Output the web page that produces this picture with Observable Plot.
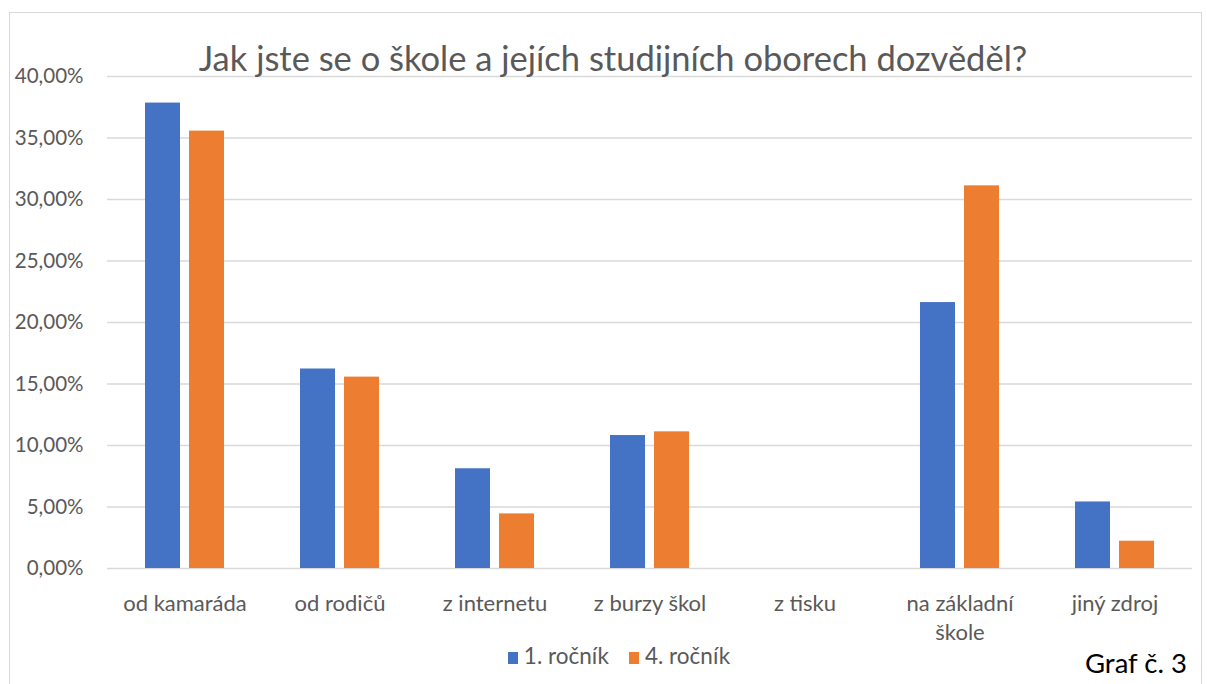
<!DOCTYPE html>
<html>
<head>
<meta charset="utf-8">
<script src="https://cdn.jsdelivr.net/npm/d3@7"></script>
<script src="https://cdn.jsdelivr.net/npm/@observablehq/plot@0.6"></script>
<style>
  html, body { margin: 0; padding: 0; background: #fff; }
  #wrap { position: relative; width: 1207px; height: 684px; overflow: hidden; font-family: Lato, "Open Sans", sans-serif; }
  #frame { position: absolute; left: 9px; top: 12px; width: 1193px; height: 700px; border: 1.5px solid #d9d9d9; box-sizing: border-box; }
  #title { position: absolute; left: 0; width: 1226px; top: 37px; text-align: center; font-size: 34.5px; color: #595959; white-space: nowrap; }
  #legend { position: absolute; left: 0; width: 1238px; top: 642px; text-align: center; font-size: 22.5px; color: #595959; white-space: nowrap; }
  #legend .item { display: inline-block; margin: 0 10px; }
  #legend .sw { display: inline-block; width: 10px; height: 12px; margin-right: 6px; vertical-align: 0px; }
  #graf { position: absolute; left: 1085px; top: 646px; font-size: 27.5px; color: #000; white-space: nowrap; }
  #chart { position: absolute; left: 0; top: 0; }
</style>
</head>
<body>
<div id="wrap">
  <div id="frame"></div>
  <div id="chart"></div>
  <div id="title"></div>
  <div id="legend"></div>
  <div id="graf"></div>
</div>
<script>
const titleText = "Jak jste se o škole a jejích studijních oborech dozvěděl?";
const captionText = "Graf č. 3";
const categories = ["od kamaráda", "od rodičů", "z internetu", "z burzy škol", "z tisku", "na základní škole", "jiný zdroj"];
const seriesNames = ["1. ročník", "4. ročník"];
const rocnik1 = [37.84, 16.22, 8.11, 10.81, 0, 21.62, 5.41];
const rocnik4 = [35.56, 15.56, 4.44, 11.11, 0, 31.11, 2.22];
const yTicks = [0, 5, 10, 15, 20, 25, 30, 35, 40];
const colors = ["#4472C4", "#ED7D31"];

const data1 = categories.map((c, i) => ({cat: c, value: rocnik1[i], series: seriesNames[0]}));
const data4 = categories.map((c, i) => ({cat: c, value: rocnik4[i], series: seriesNames[1]}));

const fmtY = d => d.toFixed(2).replace(".", ",") + "%";
const wrap = d => {
  if (d.length <= 12) return d;
  const k = d.lastIndexOf(" ");
  return d.slice(0, k) + "\n" + d.slice(k + 1);
};

const chart = Plot.plot({
  width: 1207,
  height: 684,
  marginTop: 76,
  marginBottom: 116,
  marginLeft: 107,
  marginRight: 15,
  style: {fontFamily: "Lato, 'Open Sans', sans-serif", background: "transparent"},
  x: {domain: categories, padding: 0, axis: null, label: null},
  y: {domain: [0, 40], axis: null, label: null},
  marks: [
    Plot.gridY(yTicks, {stroke: "#d9d9d9", strokeOpacity: 1, strokeWidth: 1.5}),
    Plot.barY(data1, {x: "cat", y: "value", fill: colors[0], insetLeft: 38, insetRight: 82}),
    Plot.barY(data4, {x: "cat", y: "value", fill: colors[1], insetLeft: 82, insetRight: 38}),
    Plot.axisY(yTicks, {tickSize: 0, tickPadding: 24, tickFormat: fmtY, fontSize: 20.5, fill: "#595959", label: null}),
    Plot.axisX({tickSize: 0, tickPadding: 21, tickFormat: wrap, fontSize: 22, fill: "#595959", lineHeight: 1.35, label: null})
  ]
});
document.getElementById("chart").appendChild(chart);

document.getElementById("title").textContent = titleText;
document.getElementById("graf").textContent = captionText;
const legend = document.getElementById("legend");
seriesNames.forEach((s, i) => {
  const item = document.createElement("span");
  item.className = "item";
  const sw = document.createElement("span");
  sw.className = "sw";
  sw.style.background = colors[i];
  item.appendChild(sw);
  item.appendChild(document.createTextNode(s));
  legend.appendChild(item);
});
</script>
</body>
</html>
